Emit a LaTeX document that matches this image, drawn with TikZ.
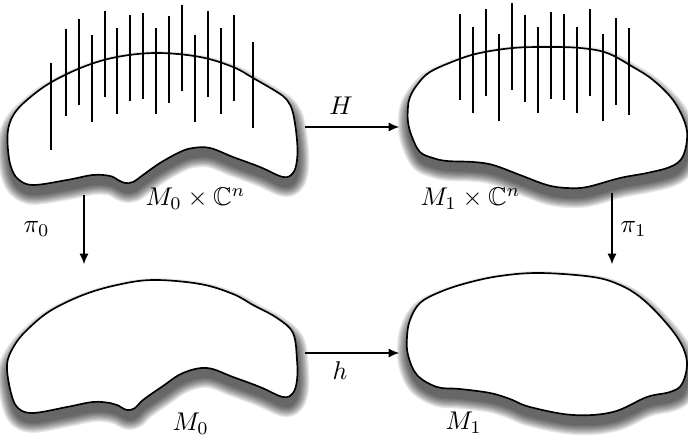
\documentclass[tikz,border=0pt]{standalone}
\usepackage{amssymb}
\usetikzlibrary{arrows.meta}

% soft shadow + outlined blob through the given points
\newcommand{\softblob}[1]{%
  \begin{scope}[shift={(1,9)}]
    \foreach \k in {1,...,10}{
      \begin{scope}[transparency group, opacity=0.085]
        \filldraw[black, line width=\k*0.85pt, line join=round]
          plot[smooth cycle, tension=0.6] coordinates {#1};
      \end{scope}}
  \end{scope}
  \draw[blob] plot[smooth cycle, tension=0.6] coordinates {#1};}

\begin{document}
\begin{tikzpicture}[
  x=0.39pt, y=-0.39pt,
  blob/.style={draw=black, fill=white, line width=0.65pt, line join=round},
  fibre/.style={draw=black, line width=0.65pt},
  arr/.style={-{Latex[length=4pt, width=3.5pt]}, line width=0.4pt},
  lbl/.style={inner sep=0pt, anchor=base west}
]
\useasboundingbox (0,0) rectangle (688,438);

% total spaces
\softblob{(50,83) (27,100) (14,114) (8,130) (8,150) (11,167) (18,179) (33,185)
  (67,180) (93,175) (110,176) (118,180) (125,183) (133,182) (143,175) (160,163)
  (180,152) (193,148) (210,148) (233,157) (260,167) (283,177) (293,173) (297,160)
  (297,140) (293,113) (287,100) (277,92) (253,78) (233,67) (200,57) (157,53)
  (117,57) (83,67)}
\softblob{(408,107) (408,122) (412,137) (420,152) (433,158) (447,161) (473,162)
  (493,165) (520,175) (547,185) (567,188) (587,187) (620,178) (647,173) (670,167)
  (682,158) (687,140) (685,123) (673,100) (653,80) (633,67) (607,53) (580,48)
  (547,47) (513,48) (480,53) (457,60) (430,72) (417,85) (410,97)}

% fibres
\foreach \x/\a/\b in {50.7/63/150, 65.7/29/116, 79/19/105, 91.7/35/122,
    104.7/11/97, 117.3/28/114, 130.3/15/101, 143.3/13/99, 156.3/28/114,
    169.3/16/103, 182.3/5/91, 195.3/35/122, 208.3/11/97, 221/28/114,
    234/15/101, 253.3/42/128}
  \draw[fibre] (\x,\a) -- (\x,\b);
\foreach \x/\a/\b in {460.3/14/100, 473.3/27/113, 486.3/9/96, 499.3/34/121,
    512.3/3/90, 525.3/15/102, 538.3/27/113, 551.3/12/99, 564.3/14/100,
    577.3/27/113, 590.3/9/96, 603.3/34/121, 616/18/105, 628.7/28/115}
  \draw[fibre] (\x,\a) -- (\x,\b);

% base spaces
\softblob{(7,365) (11,393) (18,408) (33,413) (67,407) (93,402) (110,403) (117,405)
  (127,410) (135,408) (143,400) (163,386) (183,373) (207,368) (233,377) (260,387)
  (283,397) (293,393) (297,380) (297,360) (293,333) (277,318) (253,305) (233,294)
  (200,284) (153,280) (117,285) (83,295) (50,311) (27,330) (14,346)}
\softblob{(407,337) (408,355) (417,375) (437,387) (460,389) (490,393) (510,399)
  (530,407) (573,415) (613,412) (647,397) (670,392) (682,384) (687,362)
  (679,340) (660,316) (640,297) (620,285) (593,277) (540,273) (500,276) (467,283)
  (440,292) (420,303) (410,320)}

% labels
\node[lbl] (tot0) at (145,206) {$M_0\times\mathbb{C}^n$};
\node[lbl] (tot1) at (420,206) {$M_1\times\mathbb{C}^n$};
\node[lbl] (base0) at (172,431) {$M_0$};
\node[lbl] (base1) at (445,430) {$M_1$};

% maps
\coordinate (Hs) at (305,127);
\coordinate (Ht) at (399,127);
\coordinate (hs) at (305,353);
\coordinate (ht) at (399,353);
\coordinate (p0s) at (84,195);
\coordinate (p0t) at (84,264);
\coordinate (p1s) at (612,193);
\coordinate (p1t) at (612,264);
\draw[arr] (Hs) -- (Ht);
\draw[arr] (hs) -- (ht);
\draw[arr] (p0s) -- (p0t);
\draw[arr] (p1s) -- (p1t);
\node[lbl, anchor=base] (Hlbl) at (341,115) {$H$};
\node[lbl, anchor=base] (hlbl) at (340,380) {$h$};
\node[lbl] (pi0) at (23,233) {$\pi_0$};
\node[lbl] (pi1) at (620,233) {$\pi_1$};
\end{tikzpicture}
\end{document}
